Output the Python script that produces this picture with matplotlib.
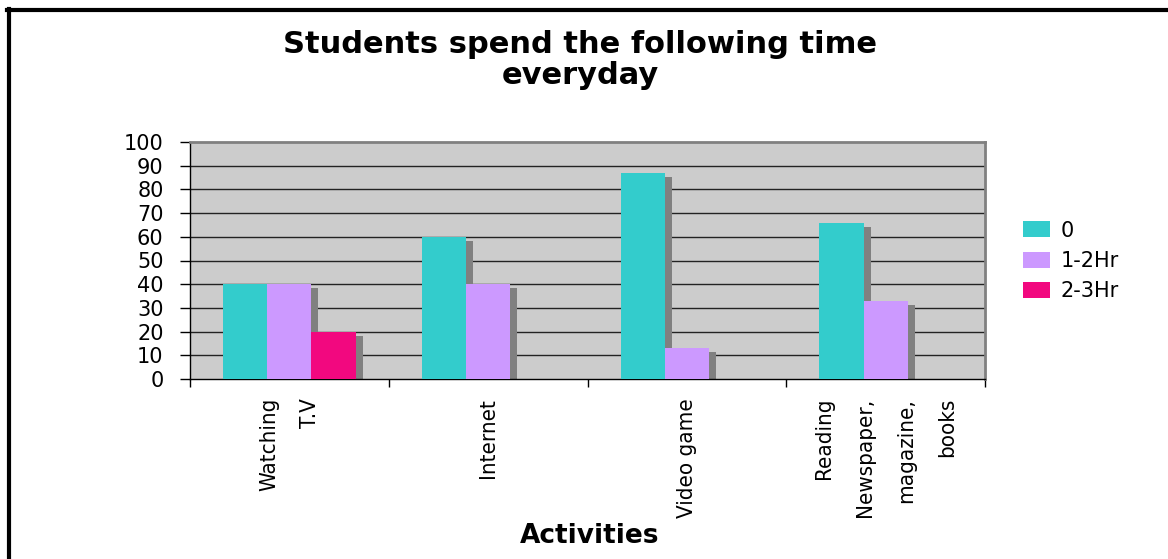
import matplotlib.pyplot as plt
import numpy as np
from matplotlib.lines import Line2D
from matplotlib.patches import Patch

# survey results (% of students) per activity and time band
activities = ["Watching\nT.V", "Internet", "Video game",
              "Reading\nNewspaper,\nmagazine,\nbooks"]
series_names = ["0", "1-2Hr", "2-3Hr"]
hours_0 = [40, 60, 87, 66]
hours_1_2 = [40, 40, 13, 33]
hours_2_3 = [20, 0, 0, 0]
yticks = list(range(0, 101, 10))

colors = ["#33CCCC", "#CC99FF", "#F2087F"]
shadow = "#808080"

fig = plt.figure(figsize=(11.68, 5.59), dpi=100)
W, H = 1168, 559
ax = fig.add_axes([190 / W, 1 - 379 / H, (985 - 190) / W, (379 - 142) / H])
ax.set_facecolor("#CCCCCC")

x = np.arange(len(activities))
width = 1 / 4.5
dx = 7 / 199          # shadow offset, in category units
dy = 4 / 2.37         # shadow drop, in value units
for i, vals in enumerate([hours_0, hours_1_2, hours_2_3]):
    pos = x - width + i * width
    vals = np.array(vals, dtype=float)
    ax.bar(pos + dx, np.where(vals > 0, vals - dy, 0), width, color=shadow,
           zorder=2, linewidth=0)
    ax.bar(pos, vals, width, color=colors[i], zorder=3 + i, linewidth=0,
           label=series_names[i])

ax.set_xlim(-0.5, len(activities) - 0.5)
ax.set_ylim(0, 100)
ax.set_yticks(yticks)
ax.set_yticklabels([str(t) for t in yticks], fontsize=15)
ax.set_xticks(np.arange(len(activities) + 1) - 0.5)
ax.set_xticklabels([])
ax.tick_params(axis="y", length=7, width=1, pad=12, direction="out")
ax.tick_params(axis="x", length=6, width=1, direction="out")
for t in yticks[1:-1]:
    ax.axhline(t, color="#222222", lw=1, zorder=1)

for side in ["left", "bottom"]:
    ax.spines[side].set_color("black")
    ax.spines[side].set_linewidth(1)
for side in ["top", "right"]:
    ax.spines[side].set_color(shadow)
    ax.spines[side].set_linewidth(2)

# category labels, rotated
for xi, name in zip(x, activities):
    ax.text(xi, -0.08, name, transform=ax.get_xaxis_transform(),
            rotation=90, ha="center", va="top", multialignment="right",
            fontsize=16, family="DejaVu Sans", fontstretch="condensed",
            linespacing=2.3)

fig.text(590 / W, 1 - 536 / H, "Activities", ha="center", va="center",
         fontsize=19, fontweight="bold")
fig.text(580 / W, 1 - 60 / H, "Students spend the following time\neveryday",
         ha="center", va="center", fontsize=22, fontweight="bold",
         linespacing=1.1)

handles = [Patch(facecolor=c, edgecolor="none") for c in colors]
fig.legend(handles, series_names, loc="center left",
           bbox_to_anchor=(1004 / W, 1 - 261 / H), frameon=False,
           fontsize=15, handlelength=1.3, handleheight=0.8,
           handletextpad=0.5, labelspacing=0.5)

# outer border (left and top edges)
fig.add_artist(Line2D([8.5 / W, 8.5 / W], [0, 1 - 9 / H], color="black",
                      lw=3, transform=fig.transFigure))
fig.add_artist(Line2D([7 / W, 1], [1 - 10 / H, 1 - 10 / H], color="black",
                      lw=3, transform=fig.transFigure))

fig.savefig("out.png", dpi=100)
